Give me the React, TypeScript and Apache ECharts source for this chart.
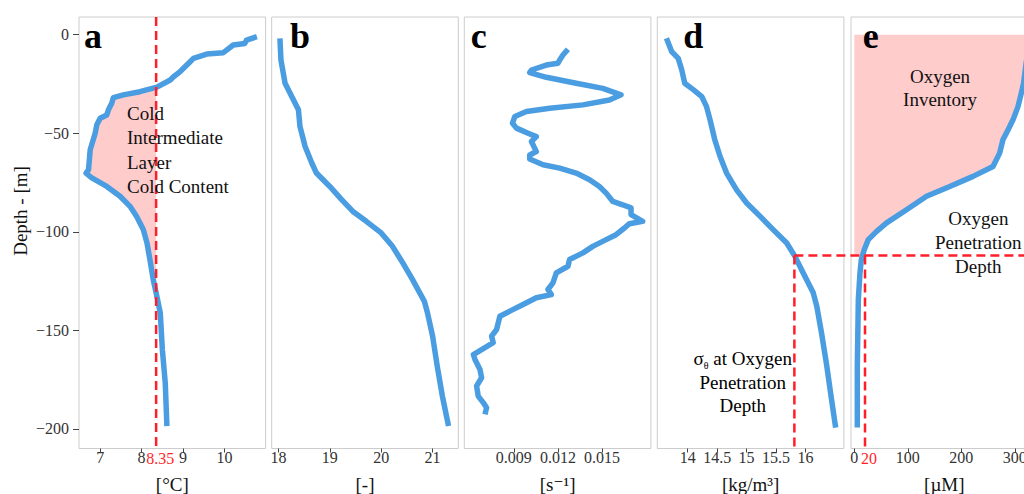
import React, { useEffect, useRef } from "react";
import * as echarts from "echarts";

// ---------- data ----------
const tempDepth = [-1, -2.7, -4.4, -5.2, -7.8, -9.1, -9.8, -12, -13.7, -18.7, -21.3, -23, -26.6, -28.9, -30.5, -31.9, -34.8, -38.1, -40.7, -42.4, -45.7, -50, -58.4, -68.5, -70.2, -72.7, -77, -82, -87.1, -92.2, -98.9, -105.7, -114.1, -124.3, -131, -141.1, -159.7, -176.6, -198.6];
const tempValue = [10.78, 10.53, 10.49, 10.21, 10.05, 9.97, 9.57, 9.25, 9.17, 8.93, 8.77, 8.69, 8.37, 7.96, 7.56, 7.32, 7.28, 7.2, 7.16, 7.0, 6.92, 6.88, 6.76, 6.72, 6.66, 6.8, 7.16, 7.48, 7.72, 7.88, 8.04, 8.13, 8.2, 8.28, 8.35, 8.45, 8.5, 8.57, 8.61];

const bDepth = [-1.8, -12.8, -24.6, -31.4, -38.1, -46.6, -56.7, -65.1, -70.2, -77, -83.7, -89.7, -94.7, -100.6, -107.4, -115.8, -124.3, -135.3, -141.1, -153, -168.2, -183.4, -198.6];
const bValue = [18.03, 18.05, 18.13, 18.26, 18.39, 18.42, 18.52, 18.65, 18.74, 19.0, 19.23, 19.45, 19.71, 20.0, 20.22, 20.42, 20.61, 20.84, 20.9, 21.0, 21.09, 21.19, 21.31];

const nDepth = [-7.4, -10.3, -12.8, -14.5, -15.4, -17.9, -19.2, -21.6, -24.6, -27.2, -30.5, -33.1, -35.6, -37.3, -39, -41.5, -44.9, -47.4, -50, -51.7, -54.2, -59.3, -61, -63.1, -66, -67.7, -70.2, -73.6, -77, -80.4, -84.6, -86.3, -87.9, -91.3, -94.7, -95.9, -98.1, -101.5, -104, -107.4, -110.7, -114.1, -117.5, -120.9, -125.9, -129.3, -131.9, -133.5, -136.9, -140.3, -142.9, -149.6, -153, -156.3, -162.3, -164.8, -169.9, -174.1, -178.3, -183.4, -186.7, -189.3, -192.7];
const nValue = [0.01268, 0.01234, 0.01212, 0.012, 0.01121, 0.0102, 0.01008, 0.01121, 0.01324, 0.01505, 0.01629, 0.0155, 0.0137, 0.01144, 0.00986, 0.00907, 0.00891, 0.00918, 0.00997, 0.01053, 0.0102, 0.01053, 0.01008, 0.01008, 0.01099, 0.01212, 0.01324, 0.01415, 0.01482, 0.01528, 0.01573, 0.0164, 0.01697, 0.01697, 0.01776, 0.01686, 0.01652, 0.01595, 0.01528, 0.01437, 0.0137, 0.01279, 0.01268, 0.01189, 0.01166, 0.01132, 0.01155, 0.01053, 0.00963, 0.00873, 0.00805, 0.00783, 0.00749, 0.0076, 0.00625, 0.00636, 0.0067, 0.00681, 0.00647, 0.00658, 0.00692, 0.00715, 0.00704];

const sigmaDepth = [-1.8, -8.6, -12, -17.9, -24.6, -28, -31.4, -36.5, -43.2, -53.3, -61.8, -70.2, -78.7, -85.4, -92.2, -98.9, -105.7, -112.5, -120.9, -131, -137.8, -151.3, -168.2, -185.1, -199.4];
const sigmaValue = [13.64, 13.73, 13.84, 13.9, 13.95, 14.1, 14.24, 14.32, 14.38, 14.46, 14.55, 14.66, 14.83, 15.0, 15.23, 15.45, 15.68, 15.82, 15.96, 16.13, 16.19, 16.27, 16.36, 16.44, 16.51];

const oxyDepth = [-1, -8, -15, -24.6, -29.7, -36.5, -43.2, -48.3, -53.3, -60.1, -66.9, -71.9, -77, -82, -88.8, -95.5, -99.8, -104, -109, -114.1, -120.9, -134.4, -168.2, -199.4];
const oxyValue = [327, 325, 321, 316.5, 312.2, 306, 296.7, 287.3, 277.9, 271.7, 259.3, 222, 178.5, 135, 97.6, 60.3, 41.7, 26.1, 18.7, 13.1, 10.6, 7.5, 5.6, 5.6];

const tempThreshold = 8.35;
const o2Threshold = 20;
const penetrationDepth = -112;
const sigmaAtPenetration = 15.81;

const depthTicks = [-200, -150, -100, -50, 0];
const tempTicks = [7, 8, 9, 10];
const bTicks = [18, 19, 20, 21];
const nTicks = [0.009, 0.012, 0.015];
const sigmaTicks = [14, 14.5, 15, 15.5, 16];
const oxyTicks = [0, 100, 200, 300];

const axisNames = ["[°C]", "[-]", "[s⁻¹]", "[kg/m³]", "[µM]"];
const panelLetters = ["a", "b", "c", "d", "e"];

// ---------- layout / style ----------
const FONT = "'Liberation Serif', 'Times New Roman', 'DejaVu Serif', serif";
const BLUE = "#4b9de2";
const PINK = "#ffcccc";
const RED = "#ff1f2a";
const gridLefts = [79, 271.7, 464.3, 657.3, 851];
const gridW = 186.6;
const gridTop = 17;
const gridH = 431.5;
const yMin = -210;
const yMax = 9;
const xRanges: [number, number][] = [
  [6.49, 10.99],
  [17.87, 21.5],
  [0.005634, 0.01832],
  [13.485, 16.65],
  [-6.2, 342.7],
];
const xTicks = [tempTicks, bTicks, nTicks, sigmaTicks, oxyTicks];

function pairs(xs: number[], ys: number[]) {
  return xs.map((x, i) => [x, ys[i]]);
}

// region between temperature curve and threshold, where temp < threshold
function coldPolygon() {
  const pts: number[][] = [];
  let started = false;
  for (let i = 1; i < tempValue.length; i++) {
    const t0 = tempValue[i - 1], t1 = tempValue[i];
    const d0 = tempDepth[i - 1], d1 = tempDepth[i];
    if (!started && t0 >= tempThreshold && t1 < tempThreshold) {
      const f = (t0 - tempThreshold) / (t0 - t1);
      pts.push([tempThreshold, d0 + f * (d1 - d0)]);
      started = true;
    }
    if (started) {
      if (t1 >= tempThreshold) {
        const f = (tempThreshold - t0) / (t1 - t0);
        pts.push([tempThreshold, d0 + f * (d1 - d0)]);
        break;
      }
      pts.push([t1, d1]);
    }
  }
  return pts;
}

function oxyPolygon() {
  const pts: number[][] = [[0, 0], [oxyValue[0], 0]];
  for (let i = 0; i < oxyValue.length; i++) {
    if (oxyDepth[i] > penetrationDepth) {
      pts.push([oxyValue[i], oxyDepth[i]]);
    } else {
      const d0 = oxyDepth[i - 1], d1 = oxyDepth[i];
      const f = (d0 - penetrationDepth) / (d0 - d1);
      pts.push([oxyValue[i - 1] + f * (oxyValue[i] - oxyValue[i - 1]), penetrationDepth]);
      break;
    }
  }
  pts.push([0, penetrationDepth]);
  return pts;
}

function polySeries(idx: number, poly: number[][]) {
  return {
    type: "custom",
    xAxisIndex: idx,
    yAxisIndex: idx,
    z: 1,
    silent: true,
    data: [poly[0]],
    renderItem: (_p: any, api: any) => ({
      type: "polygon",
      shape: { points: poly.map((p) => api.coord(p)) },
      style: { fill: PINK },
    }),
  };
}

function lineSeries(idx: number, xs: number[], ys: number[]) {
  return {
    type: "line",
    xAxisIndex: idx,
    yAxisIndex: idx,
    z: 3,
    showSymbol: false,
    symbol: "none",
    silent: true,
    data: pairs(xs, ys),
    lineStyle: { color: BLUE, width: 5.5, join: "round" },
  };
}

const textStyle = (size: number, color = "#111") => ({
  fontFamily: FONT,
  fontSize: size,
  fill: color,
});

export default function App() {
  const ref = useRef<HTMLDivElement>(null);

  useEffect(() => {
    if (!ref.current) return;
    const chart = echarts.init(ref.current, null, { renderer: "svg" });

    const grid = gridLefts.map((l) => ({
      left: l,
      top: gridTop,
      width: gridW,
      height: gridH,
      show: true,
      borderColor: "#cccccc",
      borderWidth: 1,
      backgroundColor: "#ffffff",
      containLabel: false,
      outerBoundsMode: "none",
    }));

    const xAxis = xRanges.map((r, i) => ({
      type: "value",
      gridIndex: i,
      position: "bottom",
      min: r[0],
      max: r[1],
      name: axisNames[i],
      nameLocation: "middle",
      nameGap: 26,
      nameTextStyle: { fontFamily: FONT, fontSize: 19, color: "#111" },
      axisLine: { show: false, onZero: false },
      splitLine: { show: false },
      axisTick: { show: true, length: 4, customValues: xTicks[i], lineStyle: { color: "#444" } },
      axisLabel: {
        show: true,
        margin: 1,
        customValues: xTicks[i],
        fontFamily: FONT,
        fontSize: 16,
        color: "#333",
        formatter: (v: number) => (i === 2 ? v.toFixed(3) : String(v)),
      },
    }));

    const yAxis = gridLefts.map((_, i) => ({
      type: "value",
      gridIndex: i,
      position: "left",
      min: yMin,
      max: yMax,
      show: i === 0,
      axisLine: { show: false, onZero: false },
      splitLine: { show: false },
      axisTick: { show: i === 0, length: 6, customValues: depthTicks, lineStyle: { color: "#444" } },
      axisLabel: {
        show: i === 0,
        margin: 10,
        customValues: depthTicks,
        fontFamily: FONT,
        fontSize: 16,
        color: "#333",
        formatter: (v: number) => String(v).replace("-", "−"),
      },
    }));

    chart.setOption({
      animation: false,
      backgroundColor: "#ffffff",
      grid,
      xAxis,
      yAxis,
      series: [
        polySeries(0, coldPolygon()),
        polySeries(4, oxyPolygon()),
        lineSeries(0, tempValue, tempDepth),
        lineSeries(1, bValue, bDepth),
        lineSeries(2, nValue, nDepth),
        lineSeries(3, sigmaValue, sigmaDepth),
        lineSeries(4, oxyValue, oxyDepth),
      ],
    });

    const aTop = chart.convertToPixel({ gridIndex: 0 }, [tempThreshold, yMax]) as number[];
    const aBot = chart.convertToPixel({ gridIndex: 0 }, [tempThreshold, yMin]) as number[];
    const dPen = chart.convertToPixel({ gridIndex: 3 }, [sigmaAtPenetration, penetrationDepth]) as number[];
    const dBot = chart.convertToPixel({ gridIndex: 3 }, [sigmaAtPenetration, yMin]) as number[];
    const eRight = chart.convertToPixel({ gridIndex: 4 }, [xRanges[4][1], penetrationDepth]) as number[];
    const ePen = chart.convertToPixel({ gridIndex: 4 }, [o2Threshold, penetrationDepth]) as number[];
    const eBot = chart.convertToPixel({ gridIndex: 4 }, [o2Threshold, yMin]) as number[];

    const dashStyle = { stroke: RED, lineWidth: 2.5, lineDash: [9, 5] };
    const letterPos = [84, 290, 470.7, 683.3, 862.7];

    const graphic: any[] = [
      { type: "line", z: 100, shape: { x1: aTop[0], y1: aTop[1], x2: aBot[0], y2: aBot[1] }, style: dashStyle },
      { type: "line", z: 100, shape: { x1: dPen[0], y1: dPen[1], x2: dBot[0], y2: dBot[1] }, style: dashStyle },
      { type: "line", z: 100, shape: { x1: dPen[0], y1: dPen[1], x2: eRight[0], y2: eRight[1] }, style: dashStyle },
      { type: "line", z: 100, shape: { x1: ePen[0], y1: ePen[1], x2: eBot[0], y2: eBot[1] }, style: dashStyle },
      {
        type: "text", z: 101, x: aBot[0] + 4, y: 458,
        style: { ...textStyle(16, RED), text: String(tempThreshold), align: "center", verticalAlign: "middle" },
      },
      {
        type: "text", z: 101, x: eBot[0] + 4, y: 458,
        style: { ...textStyle(16, RED), text: String(o2Threshold), align: "center", verticalAlign: "middle" },
      },
      ...panelLetters.map((l, i) => ({
        type: "text", z: 101, x: letterPos[i], y: 36,
        style: { ...textStyle(36, "#000"), text: l, fontWeight: "bold", align: "left", verticalAlign: "middle" },
      })),
      {
        type: "text", z: 101, x: 127, y: 100.8,
        style: { ...textStyle(19, "#111"), text: "Cold\nIntermediate\nLayer\nCold Content", lineHeight: 24.5, align: "left", verticalAlign: "top" },
      },
      {
        type: "text", z: 101, x: 940, y: 64.7,
        style: { ...textStyle(19, "#111"), text: "Oxygen\nInventory", lineHeight: 23.5, align: "center", verticalAlign: "top" },
      },
      {
        type: "text", z: 101, x: 978.3, y: 206.2,
        style: { ...textStyle(19, "#111"), text: "Oxygen\nPenetration\nDepth", lineHeight: 24.2, align: "center", verticalAlign: "top" },
      },
      {
        type: "text", z: 101, x: 742.7, y: 346.4,
        style: {
          text: "{n|σ}{s|θ}{n| at Oxygen}\n{n|Penetration}\n{n|Depth}",
          align: "center",
          verticalAlign: "top",
          rich: {
            n: { fontFamily: FONT, fontSize: 19, color: "#111", lineHeight: 23.8 },
            s: { fontFamily: FONT, fontSize: 10, color: "#111", lineHeight: 23.8, verticalAlign: "bottom", padding: [0, 0, 0, 0] },
          },
        },
      },
      {
        type: "text", z: 101, x: 20.7, y: 211, rotation: Math.PI / 2,
        style: { ...textStyle(19, "#111"), text: "Depth - [m]", align: "center", verticalAlign: "middle" },
      },
    ];

    chart.setOption({ graphic });

    return () => chart.dispose();
  }, []);

  return (
    <div
      ref={ref}
      style={{ position: "fixed", left: 0, top: 0, width: 1024, height: 494, background: "#fff" }}
    />
  );
}
